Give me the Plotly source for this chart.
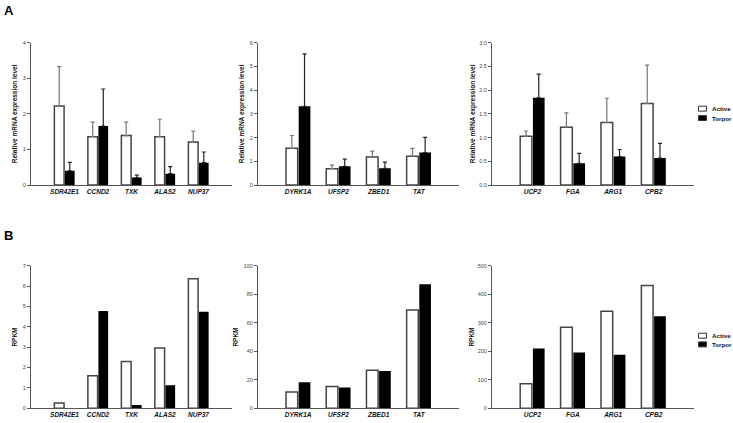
import plotly.graph_objects as go

W, H = 733, 423

# Panel A: relative mRNA expression (qRT-PCR), mean + SEM
genes_1 = ["SDR42E1", "CCND2", "TXK", "ALAS2", "NUP37"]
genes_2 = ["DYRK1A", "UFSP2", "ZBED1", "TAT"]
genes_3 = ["UCP2", "FGA", "ARG1", "CPB2"]

a1_active = [2.22, 1.36, 1.39, 1.36, 1.21]
a1_active_sem = [1.11, 0.41, 0.38, 0.49, 0.31]
a1_torpor = [0.40, 1.66, 0.21, 0.32, 0.63]
a1_torpor_sem = [0.24, 1.04, 0.07, 0.20, 0.30]

a2_active = [1.55, 0.69, 1.18, 1.22]
a2_active_sem = [0.54, 0.15, 0.25, 0.33]
a2_torpor = [3.32, 0.79, 0.71, 1.37]
a2_torpor_sem = [2.21, 0.30, 0.26, 0.64]

a3_active = [1.03, 1.22, 1.32, 1.72]
a3_active_sem = [0.11, 0.30, 0.51, 0.81]
a3_torpor = [1.84, 0.46, 0.60, 0.57]
a3_torpor_sem = [0.50, 0.21, 0.15, 0.31]

# Panel B: RPKM from RNA-seq
b1_active = [0.26, 1.60, 2.30, 2.96, 6.37]
b1_torpor = [0.0, 4.78, 0.16, 1.13, 4.75]
b2_active = [11.3, 15.2, 26.6, 69.1]
b2_torpor = [18.2, 14.6, 26.1, 87.1]
b3_active = [85.5, 284, 341, 431]
b3_torpor = [210, 196, 188, 323]


def px_x(x):
    return x / W


def px_y(y):
    return 1 - y / H


panels = [
    # genes, active, torpor, active err, torpor err, y max, dtick, y title
    (genes_1, a1_active, a1_torpor, a1_active_sem, a1_torpor_sem, 4, 1, "Relative mRNA expression level"),
    (genes_2, a2_active, a2_torpor, a2_active_sem, a2_torpor_sem, 6, 1, "Relative mRNA expression level"),
    (genes_3, a3_active, a3_torpor, a3_active_sem, a3_torpor_sem, 3, 0.5, "Relative mRNA expression level"),
    (genes_1, b1_active, b1_torpor, None, None, 7, 1, "RPKM"),
    (genes_2, b2_active, b2_torpor, None, None, 100, 20, "RPKM"),
    (genes_3, b3_active, b3_torpor, None, None, 500, 100, "RPKM"),
]

x_domains = [[px_x(31), px_x(232)], [px_x(258), px_x(459)], [px_x(492), px_x(694)]]
y_domains = [[px_y(184.7), px_y(40.3)], [px_y(411), px_y(266.7)]]

FONT = "Liberation Sans, Arial, sans-serif"
AXIS_COLOR = "#555555"

fig = go.Figure()
layout = {}

for i, (genes, act, tor, act_err, tor_err, ymax, dtick, ytitle) in enumerate(panels):
    n = i + 1
    xa = "x" if n == 1 else f"x{n}"
    ya = "y" if n == 1 else f"y{n}"

    act_kw = {}
    tor_kw = {}
    if act_err is not None:
        act_kw["error_y"] = dict(type="data", array=act_err, arrayminus=[0] * len(act_err),
                                 symmetric=False, color="#777777", thickness=1.2, width=2)
        tor_kw["error_y"] = dict(type="data", array=tor_err, arrayminus=[0] * len(tor_err),
                                 symmetric=False, color="#222222", thickness=1.2, width=2)

    fig.add_trace(go.Bar(x=genes, y=act, name="Active", xaxis=xa, yaxis=ya,
                         marker=dict(color="white", line=dict(color="#444444", width=1.5)),
                         showlegend=False, **act_kw))
    fig.add_trace(go.Bar(x=genes, y=tor, name="Torpor", xaxis=xa, yaxis=ya,
                         marker=dict(color="black", line=dict(width=0)),
                         showlegend=False, **tor_kw))

    row, col = divmod(i, 3)
    layout["xaxis" if n == 1 else f"xaxis{n}"] = dict(
        domain=x_domains[col], anchor=ya, type="category", range=[-1, len(genes)],
        showline=True, linecolor=AXIS_COLOR, linewidth=1, ticks="", showgrid=False,
        tickfont=dict(family=FONT, size=6.5, color="#111111", weight="bold", style="italic"),
        fixedrange=True,
    )
    layout["yaxis" if n == 1 else f"yaxis{n}"] = dict(
        domain=y_domains[row], anchor=xa, range=[0, ymax], dtick=dtick,
        tickformat=".1f" if dtick == 0.5 else None,
        showline=True, linecolor=AXIS_COLOR, linewidth=1, ticks="outside", ticklen=3,
        tickcolor=AXIS_COLOR, showgrid=False, zeroline=False,
        tickfont=dict(family=FONT, size=5.5, color="#444444"),
        title=dict(text=ytitle, standoff=2 if col == 2 else 4,
                   font=dict(family=FONT, size=6.5, color="#111111", weight="bold")),
    )

fig.update_layout(**layout)

# Legends (one per row), drawn as small boxes like the original figure
shapes = []
annotations = []
for y_act, y_tor in [(107.2, 116.7), (337.5, 346.3)]:
    for yc, fill, label in [(y_act, "white", "Active"), (y_tor, "black", "Torpor")]:
        shapes.append(dict(type="rect", xref="paper", yref="paper",
                           x0=px_x(698.5), x1=px_x(706.5), y0=px_y(yc + 2.5), y1=px_y(yc - 2.5),
                           fillcolor=fill, line=dict(color="#333333", width=1)))
        annotations.append(dict(text=label, xref="paper", yref="paper", x=px_x(710), y=px_y(yc),
                                xanchor="left", yanchor="middle", showarrow=False,
                                font=dict(family=FONT, size=6.2, color="#111111", weight="bold")))

# Panel letters
for letter, yc in [("A", 8), ("B", 236)]:
    annotations.append(dict(text=f"<b>{letter}</b>", xref="paper", yref="paper", x=px_x(2), y=px_y(yc),
                            xanchor="left", yanchor="middle", showarrow=False,
                            font=dict(family=FONT, size=13, color="black")))

fig.update_layout(
    width=W, height=H,
    margin=dict(l=0, r=0, t=0, b=0),
    paper_bgcolor="white", plot_bgcolor="white",
    barmode="group", bargap=0.37, bargroupgap=0.08,
    shapes=shapes, annotations=annotations,
    showlegend=False,
    font=dict(family=FONT),
)

# Seite ohne Rand, damit die Grafik genau ins Fenster passt
fig.write_html("out.html", config={"displayModeBar": False},
               post_script="document.body.style.margin='0';")
